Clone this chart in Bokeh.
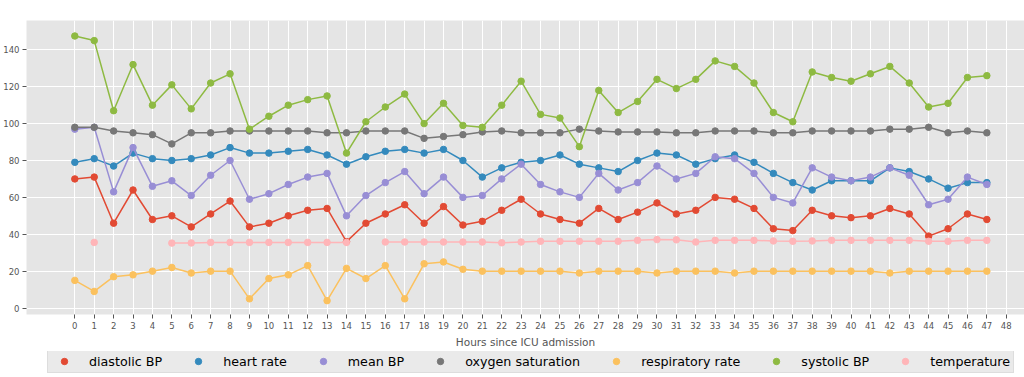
from bokeh.plotting import figure
from bokeh.models import Legend, LegendItem, Range1d, FixedTicker
from bokeh.layouts import column
from bokeh.embed import file_html
from bokeh.resources import INLINE
import numpy as np

nan = float("nan")

hours = list(range(48))
x_ticks = list(range(49))
y_ticks = [0, 20, 40, 60, 80, 100, 120, 140]

diastolic_bp = [70, 71, 46, 64, 48, 50, 44, 51, 58, 44, 46, 50, 53, 54, 36,
                46, 51, 56, 46, 55, 45, 47, 53, 59, 51, 48, 46, 54, 48, 52, 57, 51,
                53, 60, 59, 54, 43, 42, 53, 50, 49, 50, 54, 51, 39, 43, 51, 48]
heart_rate = [79, 81, 77, 84, 81, 80, 81, 83, 87, 84, 84, 85, 86, 83, 78,
              82, 85, 86, 84, 86, 80, 71, 76, 79, 80, 83, 78, 76, 74, 80, 84, 83,
              78, 81, 83, 79, 73, 68, 64, 69, 69, 69, 76, 74, 70, 65, 68, 68]
mean_bp = [97, 98, 63, 87, 66, 69, 61, 72, 80, 59, 62, 67, 71, 73, 50,
           61, 68, 74, 62, 71, 60, 61, 70, 78, 67, 63, 60, 73, 64, 68, 77, 70,
           73, 82, 81, 73, 60, 57, 76, 71, 69, 71, 76, 72, 56, 59, 71, 67]
oxygen_saturation = [98, 98, 96, 95, 94, 89, 95, 95, 96, 96, 96, 96, 96, 95, 95,
                     96, 96, 96, 92, 93, 94, 95.5, 96, 95, 95, 95, 97, 96, 95.5, 95.5, 95.5, 95,
                     95, 96, 96, 96, 95, 95, 96, 96, 96, 96, 97, 97, 98, 95, 96, 95]
respiratory_rate = [15, 9, 17, 18, 20, 22, 19, 20, 20, 5, 16, 18, 23, 4, 21.5,
                    16, 23, 5, 24, 25, 21, 20, 20, 20, 20, 20, 19, 20, 20, 20, 19, 20,
                    20, 20, 19, 20, 20, 20, 20, 20, 20, 20, 19, 20, 20, 20, 20, 20]
systolic_bp = [147.5, 145, 107, 132, 110, 121, 108, 122, 127, 97, 104, 110, 113, 115, 84,
               101, 109, 116, 100, 111, 99, 98, 110, 123, 105, 103, 87.5, 118, 106, 112, 124, 119,
               124, 134, 131, 122, 106, 101, 128, 125, 123, 127, 131, 122, 109, 111, 125, 126]
temperature = [nan, 35.6, nan, nan, nan, 35.2, 35.3, 35.6, 35.6, 35.6, 35.6, 35.6, 35.6, 35.6, 35.6,
               nan, 35.8, 35.8, 35.8, 35.8, 35.8, 35.8, 35.4, 35.8, 36.2, 36.2, 36.2, 36.2, 36.2, 36.7, 37.1, 37.0,
               35.8, 36.7, 36.7, 36.7, 36.4, 36.2, 36.4, 36.7, 36.7, 36.7, 36.7, 36.7, 36.2, 36.2, 36.7, 36.7]

series_names = ["diastolic BP", "heart rate", "mean BP", "oxygen saturation",
                "respiratory rate", "systolic BP", "temperature"]
series_values = [diastolic_bp, heart_rate, mean_bp, oxygen_saturation,
                 respiratory_rate, systolic_bp, temperature]
colors = ["#E24A33", "#348ABD", "#988ED5", "#777777", "#FBC15E", "#8EBA42", "#FFB5B8"]

FONT = "DejaVu Sans"

# ---------------- main chart ----------------
p = figure(width=1024, height=351, output_backend="svg", toolbar_location=None,
           x_range=Range1d(-2.49, 48.94), y_range=Range1d(-3.5, 155.9),
           min_border_left=26, min_border_right=0, min_border_top=20, min_border_bottom=37)
p.background_fill_color = "#E5E5E5"
p.border_fill_color = "white"
p.outline_line_color = None

for name, vals, col in zip(series_names, series_values, colors):
    y = np.array(vals, dtype=float)
    p.line(hours, y, line_color=col, line_width=1.5)
    p.scatter(hours, y, size=6.5, fill_color=col, line_color=col)

for ax in (p.xaxis[0], p.yaxis[0]):
    ax.axis_line_color = None
    ax.major_tick_line_color = "#555555"
    ax.major_tick_out = 4
    ax.major_tick_in = 0
    ax.minor_tick_line_color = None
    ax.major_label_text_font = FONT
    ax.major_label_text_font_size = "8.5px"
    ax.major_label_text_color = "#555555"
    ax.major_label_standoff = 3
    ax.axis_label_text_font = FONT
    ax.axis_label_text_font_size = "10.5px"
    ax.axis_label_text_font_style = "normal"
    ax.axis_label_text_color = "#555555"

p.xaxis.ticker = FixedTicker(ticks=x_ticks)
p.yaxis.ticker = FixedTicker(ticks=y_ticks)
p.xaxis.axis_label = "Hours since ICU admission"
p.xaxis.axis_label_standoff = 4

p.xgrid.ticker = FixedTicker(ticks=x_ticks)
p.ygrid.ticker = FixedTicker(ticks=y_ticks)
p.grid.grid_line_color = "white"
p.grid.grid_line_width = 1

# ---------------- legend strip ----------------
# the legend's own renderers sit outside the strip's visible range, so only
# their legend glyphs are drawn
lg = figure(width=1024, height=26, output_backend="svg", toolbar_location=None,
            x_range=Range1d(0, 1), y_range=Range1d(-1001, -1000),
            min_border=0, min_border_left=0, min_border_right=0,
            min_border_top=0, min_border_bottom=0)
lg.axis.visible = False
lg.grid.visible = False
lg.outline_line_color = None
lg.background_fill_color = "white"
lg.border_fill_color = "white"

items = []
for name, vals, col in zip(series_names, series_values, colors):
    r = lg.scatter(hours, np.array(vals, dtype=float), size=6.5, fill_color=col, line_color=col)
    items.append(LegendItem(label=name, renderers=[r]))

legend = Legend(items=items, orientation="horizontal", location=(21, 4),
                margin=0, padding=3, spacing=23,
                glyph_width=26, glyph_height=16, label_height=16, label_standoff=12,
                label_text_font=FONT, label_text_font_size="12.7px", label_text_color="black",
                background_fill_color="#EAEAEA", background_fill_alpha=1.0,
                border_line_color="#D0D0D0", border_line_width=1)
lg.add_layout(legend, "center")

layout = column(p, lg, spacing=0)
open("out.html", "w").write(file_html(layout, INLINE))
